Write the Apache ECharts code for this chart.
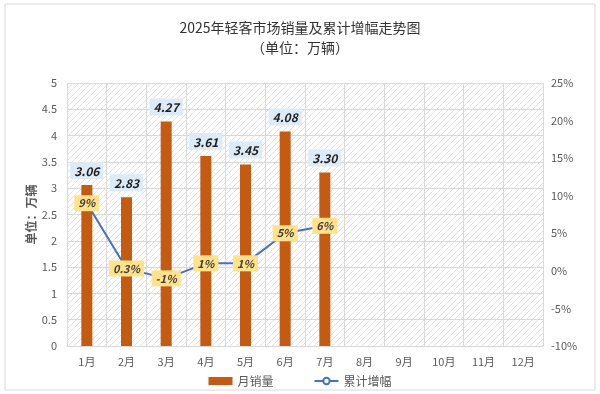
<!DOCTYPE html>
<html><head><meta charset="utf-8">
<script src="https://cdn.jsdelivr.net/npm/echarts@6/dist/echarts.min.js"></script>
<style>html,body{margin:0;padding:0;background:#fff}#c{width:600px;height:394px}</style>
</head><body><div id="c"></div>
<script>
const months = ['1月','2月','3月','4月','5月','6月','7月','8月','9月','10月','11月','12月'];
const sales = [3.06, 2.83, 4.27, 3.61, 3.45, 4.08, 3.30];
const growth = [9, 0.3, -1, 1, 1, 5, 6];
const growthLabels = ['9%', '0.3%', '-1%', '1%', '1%', '5%', '6%'];

const pc = document.createElement('canvas');
pc.width = 6; pc.height = 6;
const g = pc.getContext('2d');
g.fillStyle = '#ffffff'; g.fillRect(0,0,6,6);
g.strokeStyle = '#e2e2e2'; g.lineWidth = 1;
g.beginPath(); g.moveTo(-1,7); g.lineTo(7,-1); g.stroke();
g.beginPath(); g.moveTo(-4,4); g.lineTo(4,-4); g.stroke();
g.beginPath(); g.moveTo(2,10); g.lineTo(10,2); g.stroke();

const chart = echarts.init(document.getElementById('c'));
const font = '"Noto Sans CJK SC", "Noto Sans", sans-serif';
chart.setOption({
  animation: false,
  textStyle: { fontFamily: font },
  title: {
    text: '2025年轻客市场销量及累计增幅走势图',
    subtext: '（单位：万辆）',
    left: 'center', top: 16, itemGap: 6,
    textStyle: { fontSize: 14, fontWeight: 'normal', color: '#333' },
    subtextStyle: { fontSize: 14, color: '#333' }
  },
  graphic: [{
    type: 'rect', shape: { x: 5, y: 4, width: 590, height: 386 },
    style: { fill: 'none', stroke: '#d9d9d9', lineWidth: 1 }, silent: true, z: -1
  }],
  legend: {
    bottom: 2, left: 'center', itemGap: 40, itemWidth: 24, itemHeight: 8,
    textStyle: { fontSize: 12, color: '#595959' },
    data: [
      { name: '月销量', icon: 'rect' },
      { name: '累计增幅' }
    ]
  },
  grid: {
    left: 67, right: 57, top: 83, bottom: 48,
    show: true, borderWidth: 0,
    backgroundColor: { image: pc, repeat: 'repeat' }
  },
  xAxis: {
    type: 'category', data: months, boundaryGap: true,
    axisLine: { lineStyle: { color: '#d9d9d9' } },
    axisTick: { show: false },
    axisLabel: { color: '#595959', fontSize: 11, margin: 10 },
    splitLine: { show: true, lineStyle: { color: '#d9d9d9' } }
  },
  yAxis: [{
    type: 'value', min: 0, max: 5, interval: 0.5,
    name: '单位：万辆', nameLocation: 'middle', nameGap: 30, nameRotate: 90,
    nameMoveOverlap: false,
    nameTextStyle: { color: '#595959', fontSize: 12, fontWeight: 'bold' },
    axisLine: { show: false }, axisTick: { show: false },
    axisLabel: { color: '#595959', fontSize: 11, margin: 10 },
    splitLine: { lineStyle: { color: '#d9d9d9' } }
  }, {
    type: 'value', min: -10, max: 25, interval: 5,
    axisLine: { show: false }, axisTick: { show: false },
    axisLabel: { color: '#595959', fontSize: 11, margin: 8, formatter: '{value}%' },
    splitLine: { show: false }
  }],
  series: [{
    name: '月销量', type: 'bar', data: sales, barWidth: 11,
    itemStyle: { color: '#C55A11' },
    label: {
      show: true, position: 'top', distance: 6,
      formatter: p => p.value.toFixed(2),
      fontStyle: 'italic', fontWeight: 'bold', fontSize: 12, color: '#1f1f1f',
      backgroundColor: '#DDEBF7', padding: [3, 4, 2, 4]
    }
  }, {
    name: '累计增幅', type: 'line', yAxisIndex: 1, data: growth,
    symbol: 'emptyCircle', symbolSize: 5, showSymbol: true,
    lineStyle: { color: '#4472C4', width: 2 },
    itemStyle: { color: '#4472C4', borderColor: '#4472C4' },
    label: {
      show: true, position: 'inside',
      formatter: p => growthLabels[p.dataIndex],
      fontStyle: 'italic', fontWeight: 'bold', fontSize: 11, color: '#404040',
      backgroundColor: '#FFE28A', padding: [3, 4, 2, 4]
    },
    z: 5
  }]
});
</script></body></html>
